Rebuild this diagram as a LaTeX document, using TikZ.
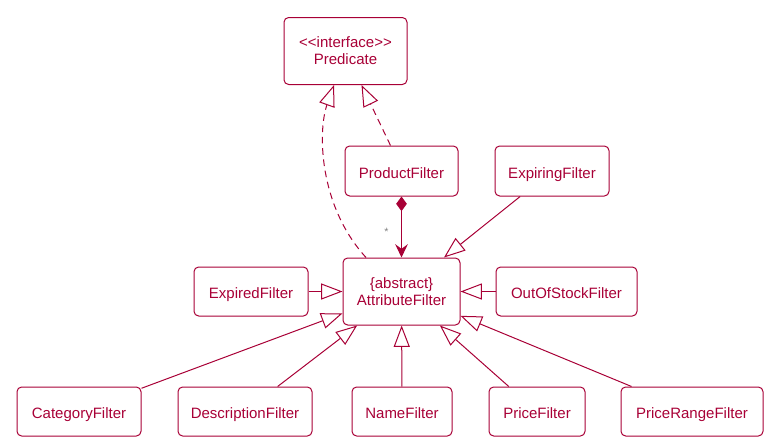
\documentclass[tikz,border=0pt]{standalone}
\usepackage{fontspec}
\setmainfont{Liberation Sans}
\usetikzlibrary{arrows.meta,positioning}
\definecolor{umlred}{HTML}{A80036}

\tikzset{
  cls/.style={draw=umlred, rounded corners=3.5pt, line width=0.75pt, inner sep=0pt,
    minimum height=36.75pt, align=center, text=umlred,
    font=\fontsize{11.25}{12.75}\selectfont},
  onecls/.style={cls, text height=10.5pt, text depth=0pt},
  extends/.style={draw=umlred, line width=0.75pt,
    -{Triangle[length=16pt,width=12pt,fill=white]}},
  implements/.style={extends, dash pattern=on 5pt off 3.5pt},
  composed/.style={draw=umlred, line width=0.75pt,
    {Diamond[length=11pt,width=8pt]}-{Stealth[length=10pt,width=9.5pt,inset=3.5pt]}}
}

\begin{document}
\begin{tikzpicture}[x=0.75pt,y=-0.75pt]
    \useasboundingbox (0,0) rectangle (774,447);
    % Nodes
    \node[cls, minimum width=92.25pt, minimum height=50.25pt] (predicate) at (345.5,51) {<\kern0pt<interface>\kern0pt>\\Predicate};
    \node[onecls, minimum width=84.75pt, minimum height=37.5pt] (product) at (401.5,171) {ProductFilter};
    \node[onecls, minimum width=85.5pt, minimum height=37.5pt] (expiring) at (552,171) {ExpiringFilter};
    \node[cls, minimum width=87.75pt, minimum height=50.25pt] (attribute) at (401.5,291.5) {\{abstract\}\\AttributeFilter};
    \node[onecls, minimum width=85.5pt] (expired) at (251,291.5) {ExpiredFilter};
    \node[onecls, minimum width=105.75pt] (outofstock) at (566.5,291.5) {OutOfStockFilter};
    \node[onecls, minimum width=93pt] (category) at (79,411.5) {CategoryFilter};
    \node[onecls, minimum width=100.5pt] (description) at (245,411.5) {DescriptionFilter};
    \node[onecls, minimum width=75pt] (name) at (402,411.5) {NameFilter};
    \node[onecls, minimum width=72pt] (price) at (537,411.5) {PriceFilter};
    \node[onecls, minimum width=106.5pt] (pricerange) at (692,411.5) {PriceRangeFilter};

    % Arrows
    \draw[implements] ([xshift=-26.6pt]attribute.north) .. controls (318,205) and (318,130) .. ([xshift=-8.6pt]predicate.south);
    \draw[implements] ([xshift=-8.25pt]product.north) -- ([xshift=12pt]predicate.south);
    \draw[composed] (product) -- node[pos=0.58, left=6pt, text=gray, font=\footnotesize] {*} (attribute);
    \draw[extends] (expiring) -- (attribute);
    \draw[extends] (expired) -- (attribute);
    \draw[extends] (outofstock) -- (attribute);
    \draw[extends] (category) -- (attribute);
    \draw[extends] (description) -- (attribute);
    \draw[extends] (name) -- (attribute);
    \draw[extends] (price) -- (attribute);
    \draw[extends] (pricerange) -- (attribute);
\end{tikzpicture}
\end{document}
